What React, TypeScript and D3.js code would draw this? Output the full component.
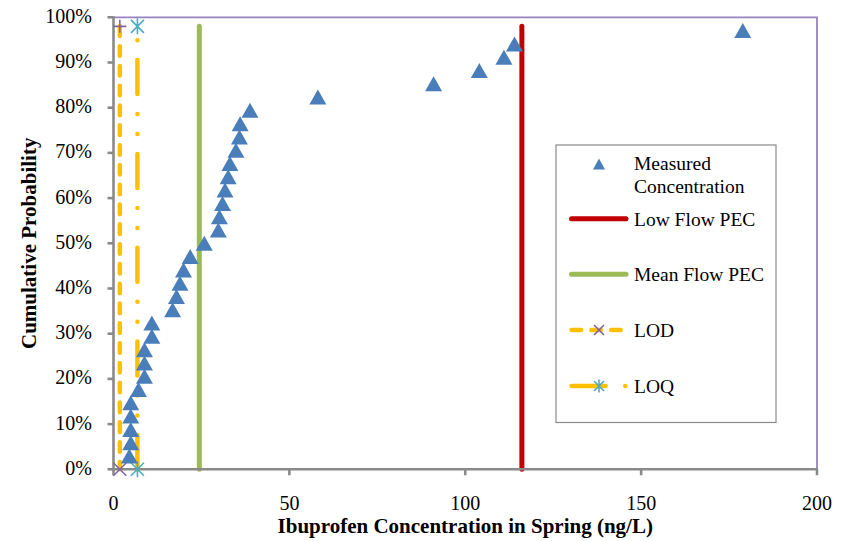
import React from 'react';
import * as d3 from 'd3';

// measured ibuprofen concentrations (ng/L), sorted, plotted at i/(n+1)
const concentrations = [
  4.5, 4.9, 4.9, 4.9, 4.9, 7.1, 8.8, 8.8, 8.8, 10.9, 10.9, 16.8, 17.9, 18.9, 19.9,
  21.8, 25.8, 29.8, 30.1, 31.0, 31.7, 32.6, 33.1, 34.8, 35.8, 36.0, 38.8, 58.1,
  91.0, 104.0, 111.0, 114.0, 178.9,
];
const lowFlowPEC = 116.1;
const meanFlowPEC = 24.4;
const lod = 1.8;
const loq = 6.8;
const refLineProb = [0, 0.98];

const xTicks = [0, 50, 100, 150, 200];
const yTicks = [0, 0.1, 0.2, 0.3, 0.4, 0.5, 0.6, 0.7, 0.8, 0.9, 1];

const legendLabels = ['Measured', 'Concentration', 'Low Flow PEC', 'Mean Flow PEC', 'LOD', 'LOQ'];

const W = 847;
const H = 541;
const font = '"Liberation Serif", "Times New Roman", serif';
const blue = '#4a7ebb';
const red = '#c00000';
const green = '#9bbb59';
const gold = '#ffc000';
const purple = '#8064a2';
const cyan = '#4bacc6';
const axisGray = '#8a8a8a';

const tri = (h: number, w: number) => `M0,${-h}L${w},${h}L${-w},${h}Z`;
const cross = (s: number) => `M${-s},${-s}L${s},${s}M${-s},${s}L${s},${-s}`;
const plus = (s: number) => `M${-s},0L${s},0M0,${-s}L0,${s}`;
const star = (s: number) => `${cross(s)}M0,${-s - 1.5}L0,${s + 1.5}`;

export default function App() {
  const x = d3.scaleLinear().domain([0, 200]).range([113.5, 817]);
  const y = d3.scaleLinear().domain([0, 1]).range([469.3, 17.3]);
  const n = concentrations.length;
  const pts = concentrations.map((c, i) => ({ c, p: (i + 1) / (n + 1) }));
  const fmt = d3.format('.0%');

  const y0 = y(refLineProb[0]);
  const y1 = y(refLineProb[1]);

  const legX = 556;
  const legLine = [571.5, 626];
  const legRows = [164, 218.7, 274.3, 330, 386];

  return (
    <svg width={W} height={H} style={{ position: 'absolute', left: 0, top: 0, background: '#fff' }}
      fontFamily={font}>
      <rect width={W} height={H} fill="#fff" />

      {/* plot area border */}
      <path d={`M${x(0)},${y(1)}H${x(200)}V${y(0)}`} fill="none" stroke="#9783bd" strokeWidth={1.8} />

      {/* reference lines */}
      <line x1={x(lowFlowPEC)} x2={x(lowFlowPEC)} y1={y0} y2={y1} stroke={red} strokeWidth={5} strokeLinecap="round" />
      <line x1={x(meanFlowPEC)} x2={x(meanFlowPEC)} y1={y0} y2={y1} stroke={green} strokeWidth={5} strokeLinecap="round" />
      <line x1={x(lod)} x2={x(lod)} y1={y1} y2={y0} stroke={gold} strokeWidth={4.5}
        strokeLinecap="round" strokeDasharray="9.6,10.2" />
      <line x1={x(loq)} x2={x(loq)} y1={y0} y2={y1} stroke={gold} strokeWidth={4.5}
        strokeLinecap="round" strokeDasharray="34,19.8,0,20,0,20" />

      {/* axes */}
      <g stroke={axisGray} strokeWidth={2.6} fill="none">
        <line x1={x(0)} x2={x(0)} y1={y(1) - 1} y2={y(0) + 1} />
        <line x1={x(0) - 1} x2={x(200) + 1} y1={y(0)} y2={y(0)} />
        {yTicks.map(t => (
          <line key={'yt' + t} x1={x(0) - 6} x2={x(0)} y1={y(t)} y2={y(t)} />
        ))}
        {xTicks.map(t => (
          <line key={'xt' + t} x1={x(t)} x2={x(t)} y1={y(0)} y2={y(0) + 6} />
        ))}
      </g>

      {/* LOD / LOQ end markers */}
      <g fill="none" strokeWidth={1.6}>
        <path d={cross(6.5)} transform={`translate(${x(lod)},${y0})`} stroke={purple} />
        <path d={plus(6.5)} transform={`translate(${x(lod)},${y1})`} stroke={purple} />
        <path d={star(6.5)} transform={`translate(${x(loq)},${y0})`} stroke={cyan} />
        <path d={star(6.5)} transform={`translate(${x(loq)},${y1})`} stroke={cyan} />
      </g>

      {/* measured points */}
      {pts.map((d, i) => (
        <path key={i} d={tri(7.5, 8.5)} fill={blue} transform={`translate(${x(d.c)},${y(d.p)})`} />
      ))}

      {/* tick labels */}
      <g fontSize={20} fill="#000">
        {yTicks.map(t => (
          <text key={'yl' + t} x={92} y={y(t) + 5.5} textAnchor="end">{fmt(t)}</text>
        ))}
        {xTicks.map(t => (
          <text key={'xl' + t} x={x(t)} y={510} textAnchor="middle">{t}</text>
        ))}
      </g>

      {/* axis titles */}
      <text x={x(100)} y={533} textAnchor="middle" fontSize={21} fontWeight="bold">
        Ibuprofen Concentration in Spring (ng/L)
      </text>
      <text transform={`translate(36,${y(0.5)}) rotate(-90)`} textAnchor="middle" fontSize={21} fontWeight="bold">
        Cumulative Probability
      </text>

      {/* legend */}
      <rect x={legX} y={145} width={220} height={277.5} fill="#fff" stroke={axisGray} strokeWidth={1.2} />
      <g fontSize={19.5} fill="#000">
        <path d={tri(5.5, 6)} fill={blue} transform={`translate(599,${legRows[0]})`} />
        <text x={634} y={170}>{legendLabels[0]}</text>
        <text x={634} y={192.7}>{legendLabels[1]}</text>

        <line x1={legLine[0]} x2={legLine[1]} y1={legRows[1]} y2={legRows[1]} stroke={red} strokeWidth={5} strokeLinecap="round" />
        <text x={634} y={legRows[1] + 7}>{legendLabels[2]}</text>

        <line x1={legLine[0]} x2={legLine[1]} y1={legRows[2]} y2={legRows[2]} stroke={green} strokeWidth={5} strokeLinecap="round" />
        <text x={634} y={legRows[2] + 7}>{legendLabels[3]}</text>

        <line x1={legLine[0]} x2={622} y1={legRows[3]} y2={legRows[3]} stroke={gold} strokeWidth={4.5}
          strokeLinecap="round" strokeDasharray="9.6,10.2" />
        <path d={cross(5)} transform={`translate(599,${legRows[3]})`} stroke={purple} strokeWidth={1.6} fill="none" />
        <text x={634} y={legRows[3] + 7}>{legendLabels[4]}</text>

        <line x1={legLine[0]} x2={legLine[1]} y1={legRows[4]} y2={legRows[4]} stroke={gold} strokeWidth={4.5}
          strokeLinecap="round" strokeDasharray="34,19.8,0,20,0,20" />
        <path d={star(5)} transform={`translate(599,${legRows[4]})`} stroke={cyan} strokeWidth={1.6} fill="none" />
        <text x={634} y={legRows[4] + 7}>{legendLabels[5]}</text>
      </g>
    </svg>
  );
}
